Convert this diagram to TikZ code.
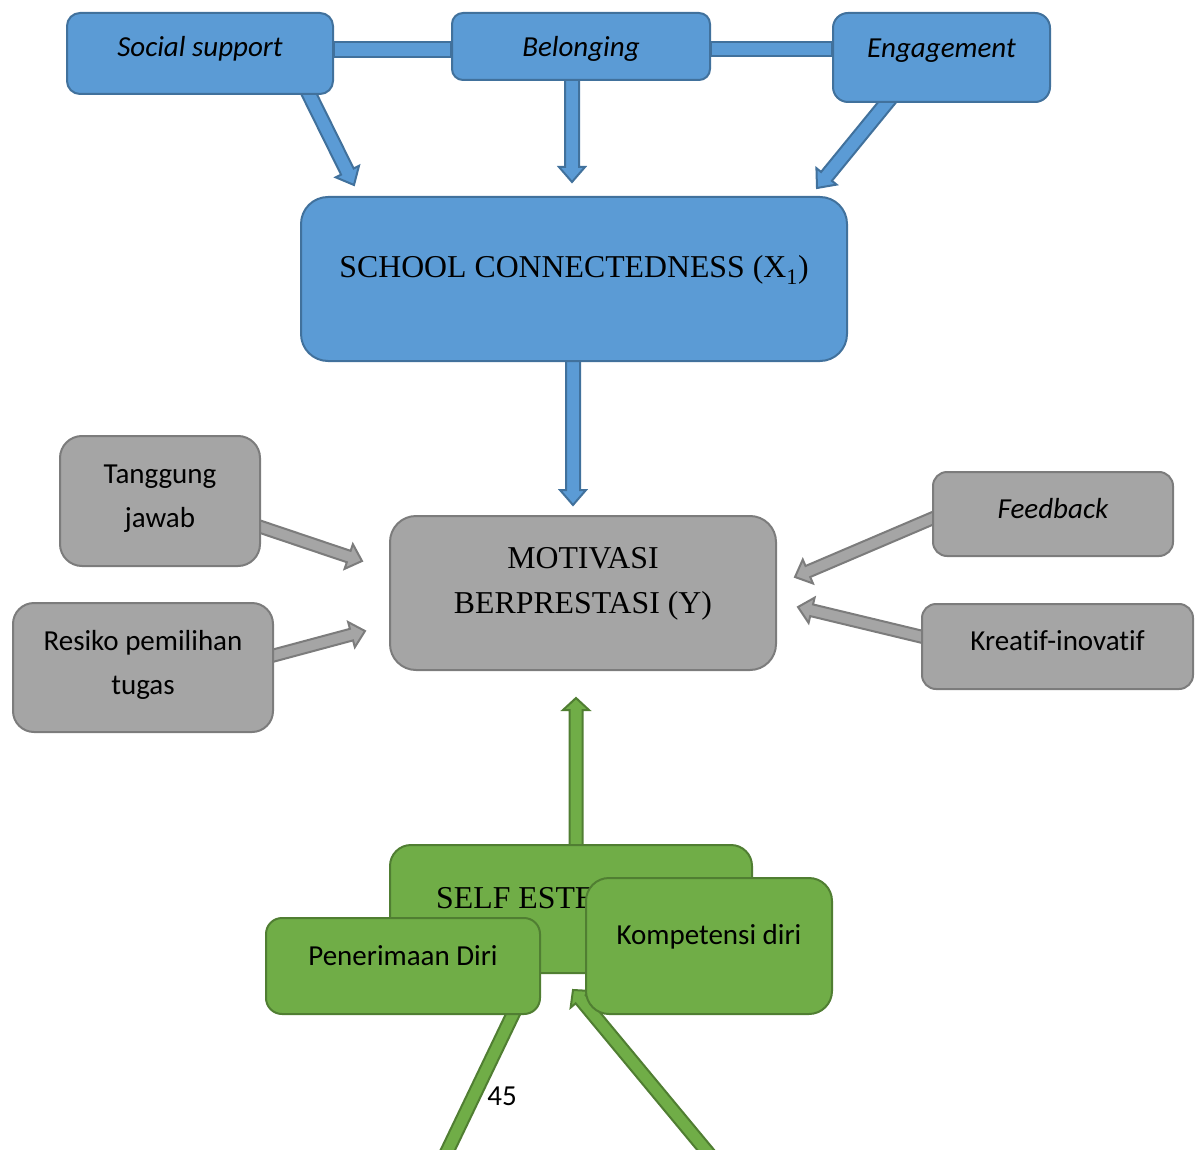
\documentclass[tikz,border=0pt]{standalone}
\usepackage{fontspec}
\newfontfamily\calfont[Ligatures=NoCommon]{Carlito}
\newfontfamily\timesfont{Liberation Serif}
\usetikzlibrary{calc}
\definecolor{scblue}{HTML}{5B9BD5}
\definecolor{scblueline}{HTML}{41719C}
\definecolor{mbgray}{HTML}{A5A5A5}
\definecolor{mbgrayline}{HTML}{7C7C7C}
\definecolor{segreen}{HTML}{70AD47}
\definecolor{segreenline}{HTML}{507E32}
\pgfdeclarelayer{background}
\pgfsetlayers{background,main}
\def\arrsw{7pt}\def\arrhw{13pt}\def\arrhl{15pt}
\newcommand{\blockarrow}[3]{%
  \coordinate (ba-base) at ($(#3)!\arrhl!(#2)$);
  \draw[#1] ($(#2)!\arrsw!90:(#3)$) -- ($(ba-base)!\arrsw!-90:(#2)$)
    -- ($(ba-base)!\arrhw!-90:(#2)$) -- (#3)
    -- ($(ba-base)!\arrhw!90:(#2)$) -- ($(ba-base)!\arrsw!90:(#2)$)
    -- ($(#2)!\arrsw!-90:(#3)$) -- cycle;}

\begin{document}
\begin{tikzpicture}[x=1pt, y=-1pt]
		\tikzstyle{box}=[draw, line width=2pt, inner sep=0pt, align=center]
		\tikzstyle{bluebox}=[box, fill=scblue, draw=scblueline]
		\tikzstyle{graybox}=[box, fill=mbgray, draw=mbgrayline]
		\tikzstyle{greenbox}=[box, fill=segreen, draw=segreenline]
		\tikzstyle{small}=[font=\calfont\fontsize{29}{44}\selectfont]
		\tikzstyle{smallit}=[font=\calfont\itshape\fontsize{29}{44}\selectfont]
		\tikzstyle{big}=[font=\timesfont\fontsize{31.8}{45}\selectfont]
		\tikzstyle{bluearrow}=[fill=scblue, draw=scblueline, line width=2pt]
		\tikzstyle{grayarrow}=[fill=mbgray, draw=mbgrayline, line width=2pt]
		\tikzstyle{greenarrow}=[fill=segreen, draw=segreenline, line width=2pt]
		\useasboundingbox (0,0) rectangle (1199,1150);
		\clip (0,0) rectangle (1199,1150);
		\node [bluebox, smallit, minimum width=266, text height=44, text depth=37, rounded corners=13] (social) at (200,53.5) {Social support};
		\node [bluebox, smallit, minimum width=258, text height=44, text depth=23, rounded corners=11] (belong) at (581,46.5) {Belonging};
		\node [bluebox, smallit, minimum width=217, text height=45, text depth=44, rounded corners=15] (engage) at (941.5,57.5) {Engagement};
		\node [bluebox, big, minimum width=546, text height=81, text depth=83, rounded corners=27] (school) at (574,279) {SCHOOL CONNECTEDNESS (X\textsubscript{1})};
		\node [graybox, big, minimum width=386, text height=97, text depth=57, rounded corners=26] (motiv) at (583,593) {MOTIVASI\\BERPRESTASI (Y)};
		\node [graybox, small, minimum width=200, text height=91, text depth=39, rounded corners=22] (tanggung) at (160,501) {Tanggung\\jawab};
		\node [graybox, small, minimum width=260, text height=91, text depth=38, rounded corners=21] (resiko) at (143,667.5) {Resiko pemilihan\\tugas};
		\node [graybox, smallit, minimum width=240, text height=46, text depth=38, rounded corners=14] (feedback) at (1053,514) {Feedback};
		\node [graybox, small, minimum width=271, text height=46, text depth=39, rounded corners=14] (kreatif) at (1057.5,646.5) {Kreatif-inovatif};
		\node [greenbox, big, minimum width=362, text height=63, text depth=65, rounded corners=21] (selfest) at (571,909) {SELF ESTEEM (X\textsubscript{2})};
		\node [greenbox, small, minimum width=274, text height=47, text depth=49, rounded corners=16] (terima) at (403,966) {Penerimaan Diri};
		\node [greenbox, small, minimum width=246, text height=66, text depth=70, rounded corners=23] (kompet) at (709,946) {Kompetensi diri};
		\node [small] (page) at (502,1096) {45};
		\begin{pgfonlayer}{background}
		\draw [bluearrow] (social.east |- 0,42) rectangle (belong.west |- 0,57);
		\draw [bluearrow] (belong.east |- 0,42) rectangle (engage.west |- 0,56);
		\coordinate (sa) at (306,88);
		\coordinate (sb) at (354,185);
		\coordinate (ba) at (572,75);
		\coordinate (bb) at (572,182);
		\coordinate (ea) at (893,95);
		\coordinate (eb) at (817,188);
		\coordinate (ca) at (573,355);
		\coordinate (cb) at (573,505);
		\blockarrow{bluearrow}{sa}{sb}
		\blockarrow{bluearrow}{ba}{bb}
		\blockarrow{bluearrow}{ea}{eb}
		\blockarrow{bluearrow}{ca}{cb}
		\def\arrsw{6pt}\def\arrhw{13pt}\def\arrhl{14pt}
		\coordinate (ta) at (255,525);
		\coordinate (tb) at (362,561);
		\coordinate (ra) at (268,657);
		\coordinate (rb) at (365,631);
		\coordinate (fa) at (938,516);
		\coordinate (fb) at (795,577);
		\coordinate (ka) at (927,638);
		\coordinate (kb) at (798,607);
		\blockarrow{grayarrow}{ta}{tb}
		\blockarrow{grayarrow}{ra}{rb}
		\blockarrow{grayarrow}{fa}{fb}
		\blockarrow{grayarrow}{ka}{kb}
		\def\arrsw{6.5pt}\def\arrhw{13pt}\def\arrhl{12pt}
		\coordinate (ga) at (576,855);
		\coordinate (gb) at (576,698);
		\coordinate (pa) at (443,1160);
		\coordinate (pb) at (527,985);
		\coordinate (qa) at (714,1160);
		\coordinate (qb) at (573,990);
		\blockarrow{greenarrow}{ga}{gb}
		\blockarrow{greenarrow}{pa}{pb}
		\blockarrow{greenarrow}{qa}{qb}
		\end{pgfonlayer}
		\end{tikzpicture}
\end{document}
